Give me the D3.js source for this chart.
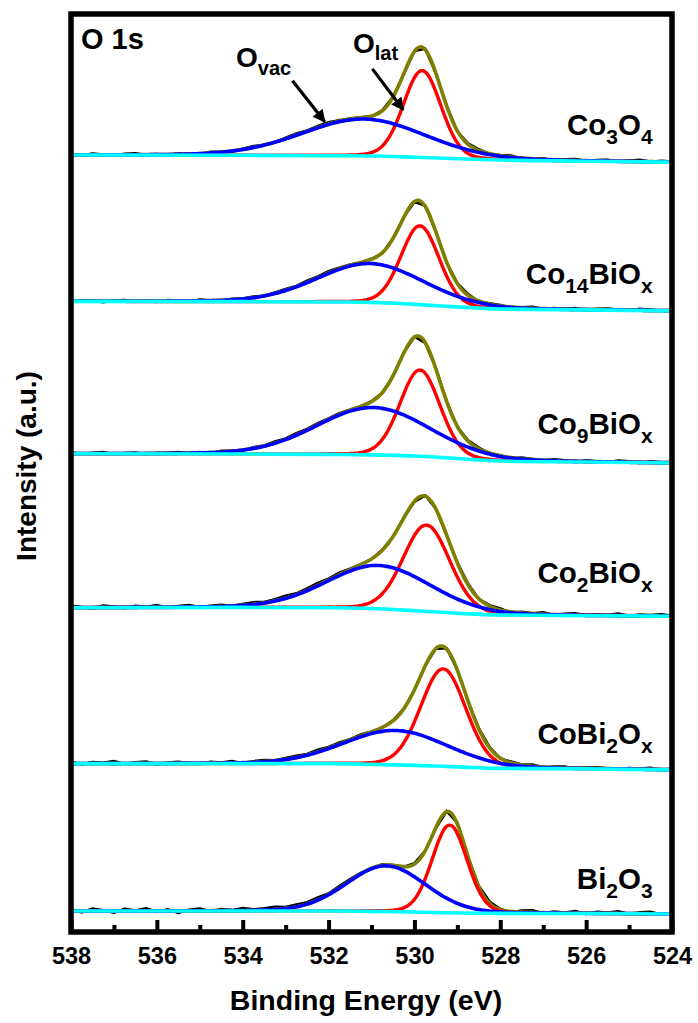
<!DOCTYPE html>
<html>
<head>
<meta charset="utf-8">
<script src="https://cdn.jsdelivr.net/npm/d3@7"></script>
<style>
  body { margin: 0; background: #fff; }
  text { font-family: "Liberation Sans", Arial, sans-serif; font-weight: bold; fill: #000; }
</style>
</head>
<body>
<svg id="chart" width="698" height="1023"></svg>
<script>
// ---- data (top -> bottom) ----
const samples = ["Co3O4", "Co14BiOx", "Co9BiOx", "Co2BiOx", "CoBi2Ox", "Bi2O3"];

// label pieces: [text, isSubscript]
const labelParts = [
    [["Co", 0], ["3", 1], ["O", 0], ["4", 1]],
    [["Co", 0], ["14", 1], ["BiO", 0], ["x", 1]],
    [["Co", 0], ["9", 1], ["BiO", 0], ["x", 1]],
    [["Co", 0], ["2", 1], ["BiO", 0], ["x", 1]],
    [["CoBi", 0], ["2", 1], ["O", 0], ["x", 1]],
    [["Bi", 0], ["2", 1], ["O", 0], ["3", 1]]
];

// Shirley-type background, stacked intensity (a.u.) at these binding energies
const bgEnergy = [538, 534, 532, 531, 530, 529, 528, 526, 524];
const bgLevels = [
    [778.7, 778.4, 778.0, 777.7, 776.5, 775.0, 773.7, 772.5, 771.5],
    [632.0, 631.7, 631.4, 631.0, 629.0, 626.5, 624.3, 623.5, 622.5],
    [479.3, 479.0, 478.7, 478.2, 477.0, 474.5, 472.0, 471.0, 470.0],
    [325.0, 325.3, 325.0, 324.2, 322.0, 319.5, 317.7, 317.0, 316.5],
    [168.7, 168.7, 168.7, 168.0, 167.0, 165.5, 164.0, 163.5, 162.5],
    [21.0, 21.0, 21.0, 20.7, 20.0, 19.0, 18.7, 18.5, 18.0]
];

// fitted components: lattice oxygen (red) and oxygen vacancy (blue)
const latCenter = [529.82, 529.87, 529.87, 529.72, 529.33, 529.18];
const latHeight = [87, 79, 86.5, 86.5, 97.7, 88];
const latFwhm   = [1.03, 1.05, 1.10, 1.28, 1.24, 0.96];
const vacCenter = [531.18, 531.03, 530.96, 530.83, 530.44, 530.66];
const vacHeight = [37, 39, 47.5, 43.5, 34.5, 45.8];
const vacFwhm   = [3.38, 2.92, 3.10, 2.85, 2.85, 2.18];
const glMix = 0.1;

// raw spectrum = fit + residual, residuals every 0.25 eV from 538 to 524 eV
const rawStep = 0.25;
const residuals = [
    [0.5,-0.8,1.2,0.3,-1.0,0.8,1.5,-0.5,0.6,-1.2, 0.9,0.2,-0.7,1.1,0.4,-0.9,0.7,1.3,0.2,-0.6, 1.0,1.6,0.8,1.4,1.8,0.9,0.5,0.3,-0.4,0.6, 0.2,-0.5,0.4,0.8,-0.3,0.5,-0.7,0.9,1.2,-0.4, 0.6,1.5,-0.8,0.3,1.1,-0.6,0.9,1.4,-0.3,0.7, 1.2,-0.5,0.8,1.6,-0.2,0.9,0.4],
    [-0.6,0.9,0.3,-1.1,0.7,1.2,-0.4,0.5,-0.9,1.0, 0.4,-0.7,1.3,0.2,-0.5,0.8,0.3,1.1,-0.2,0.9, 1.4,0.7,1.7,1.2,1.9,1.0,0.6,-0.3,0.4,-0.6, 0.3,0.5,-0.4,0.7,0.2,-0.8,0.6,1.3,-0.5,0.8, 1.0,-0.7,0.5,1.4,-0.4,0.9,0.2,1.2,-0.6,0.7, 1.1,0.3,-0.5,1.3,0.6,-0.3,0.8],
    [1.1,-0.5,0.6,1.4,-0.8,0.3,1.0,-1.1,0.7,0.2, 1.3,-0.4,0.8,-0.9,1.2,0.5,-0.3,1.0,0.6,1.5, 0.9,1.8,1.1,1.6,0.8,1.2,0.4,-0.2,0.5,0.1, -0.4,0.6,0.3,-0.5,0.8,0.2,-0.6,0.9,1.1,-0.3, 0.7,-0.8,1.2,0.4,-0.5,1.3,0.6,-0.9,1.0,0.3, -0.4,1.4,0.7,-0.6,1.1,0.2,0.9],
    [1.6,0.4,-1.2,1.9,0.7,-0.8,1.4,0.3,2.0,-0.6, 1.1,1.8,-0.4,0.9,1.5,0.2,1.3,2.1,0.8,1.7, 2.3,1.2,1.9,2.4,1.4,2.0,0.9,0.5,-0.3,0.6, -0.2,0.4,-0.5,0.7,0.3,-0.6,0.5,1.2,-0.4,0.9, 1.5,-0.7,1.1,0.4,1.8,-0.5,0.8,1.6,-0.3,1.0, 0.6,1.9,-0.4,1.2,0.7,1.5,0.3],
    [2.0,-0.9,1.4,0.6,2.3,-0.5,1.1,1.8,-1.0,0.7, 1.6,0.2,-0.8,1.3,0.5,1.9,-0.6,1.0,1.5,0.3, 1.2,1.7,0.9,2.0,1.1,1.6,0.7,1.3,0.4,-0.3, 0.5,0.2,-0.4,0.6,-0.2,0.8,0.3,-0.5,0.7,1.0, -0.6,1.2,0.4,1.7,-0.5,0.9,1.3,-0.8,0.6,1.1, 0.3,-0.4,1.0,0.5,1.4,-0.6,0.8],
    [1.8,-1.4,2.4,0.6,-1.8,2.1,0.3,2.6,-1.2,1.5, -2.0,0.9,2.2,-0.7,1.6,0.4,2.5,1.0,1.8,2.6, 1.4,2.2,1.7,2.5,1.1,2.0,1.5,0.8,-0.4,0.9, 0.3,-0.5,0.8,0.1,-0.6,0.5,1.3,-0.3,0.9,1.8, 0.6,-0.9,1.6,2.2,-0.7,1.2,0.4,2.0,-1.1,1.4, 0.8,2.1,-0.5,1.3,1.9,-0.8,1.0]
];

const majorTicks = [538, 536, 534, 532, 530, 528, 526, 524];
const minorTicks = [537, 535, 533, 531, 529, 527, 525];

// ---- layout ----
const svg = d3.select("#chart");
const plot = {left: 71, right: 672, top: 14, bottom: 932};
const labelLift = [20, 17, 20, 25, 20, 22];

const x = d3.scaleLinear().domain([538, 524]).range([plot.left, plot.right]);
const y = d3.scaleLinear().domain([0, 920]).range([plot.bottom, plot.top]);

function pv(e, c, h, w) {
    const t = (e - c) / w;
    return h * ((1 - glMix) * Math.exp(-4 * Math.LN2 * t * t) + glMix / (1 + 4 * t * t));
}

const fineE = d3.range(0, 281).map(i => 538 - i * 0.05);
const rawE = d3.range(0, 57).map(i => 538 - i * rawStep);

const line = d3.line().x(d => x(d[0])).y(d => y(d[1]));
const smooth = d3.line().x(d => x(d[0])).y(d => y(d[1])).curve(d3.curveMonotoneX);

samples.forEach((s, k) => {
    const bg = d3.scaleLinear().domain(bgEnergy).range(bgLevels[k]);
    const lat = e => pv(e, latCenter[k], latHeight[k], latFwhm[k]);
    const vac = e => pv(e, vacCenter[k], vacHeight[k], vacFwhm[k]);
    const g = svg.append("g").attr("class", "spectrum");

    // raw data
    g.append("path")
        .attr("d", line(rawE.map((e, i) => [e, bg(e) + lat(e) + vac(e) + residuals[k][i]])))
        .attr("fill", "none").attr("stroke", "#000").attr("stroke-width", 2.6);
    // envelope
    g.append("path")
        .attr("d", smooth(fineE.map(e => [e, bg(e) + lat(e) + vac(e)])))
        .attr("fill", "none").attr("stroke", "#808000").attr("stroke-width", 3.6);
    // O lat
    g.append("path")
        .attr("d", smooth(fineE.map(e => [e, bg(e) + lat(e)])))
        .attr("fill", "none").attr("stroke", "#ff0000").attr("stroke-width", 3.4);
    // O vac
    g.append("path")
        .attr("d", smooth(fineE.map(e => [e, bg(e) + vac(e)])))
        .attr("fill", "none").attr("stroke", "#0000ff").attr("stroke-width", 3.6);
    // background
    g.append("path")
        .attr("d", smooth(bgEnergy.map((e, i) => [e, bgLevels[k][i]])))
        .attr("fill", "none").attr("stroke", "#00ffff").attr("stroke-width", 3.6);

    // sample label
    const t = svg.append("text")
        .attr("x", x(524.45))
        .attr("y", y(bgLevels[k][0] + labelLift[k]))
        .attr("text-anchor", "end")
        .style("font-size", "29.5px");
    let shifted = false;
    labelParts[k].forEach(p => {
        const ts = t.append("tspan").text(p[0]);
        if (p[1]) { ts.attr("dy", 9).style("font-size", "21px"); shifted = true; }
        else if (shifted) { ts.attr("dy", -9); shifted = false; }
    });
});

// ---- annotations ----
svg.append("text").attr("x", 81).attr("y", 49).style("font-size", "29px").text("O 1s");

function subLabel(xp, yp, main, sub, dy) {
    const t = svg.append("text").attr("x", xp).attr("y", yp).style("font-size", "28px");
    t.append("tspan").text(main);
    t.append("tspan").attr("dy", dy).style("font-size", "20px").text(sub);
}
subLabel(236, 67, "O", "vac", 8);
subLabel(353, 53, "O", "lat", 7);

svg.append("defs").append("marker")
    .attr("id", "head").attr("viewBox", "0 0 10 10")
    .attr("refX", 9).attr("refY", 5)
    .attr("markerWidth", 4.2).attr("markerHeight", 4)
    .attr("markerUnits", "strokeWidth")
    .attr("orient", "auto")
    .append("path").attr("d", "M0,0 L10,5 L0,10 Z").attr("fill", "#000");

const arrows = [
    {from: [532.84, 853], to: [532.09, 812]},
    {from: [530.98, 865], to: [530.26, 824]}
];
arrows.forEach(a => {
    svg.append("line")
        .attr("x1", x(a.from[0])).attr("y1", y(a.from[1]))
        .attr("x2", x(a.to[0])).attr("y2", y(a.to[1]))
        .attr("stroke", "#000").attr("stroke-width", 3.2)
        .attr("marker-end", "url(#head)");
});

// ---- axes and frame ----
const axisMajor = d3.axisBottom(x).tickValues(majorTicks).tickSize(-12).tickPadding(15).tickFormat(d3.format("d"));
const gx = svg.append("g").attr("transform", `translate(0,${plot.bottom})`).call(axisMajor);
gx.select(".domain").remove();
gx.selectAll(".tick line").attr("stroke", "#000").attr("stroke-width", 4);
gx.selectAll(".tick text").style("font-size", "23.5px").style("font-family", "'Liberation Sans', Arial, sans-serif");

const axisMinor = d3.axisBottom(x).tickValues(minorTicks).tickSize(-7).tickFormat("");
const gm = svg.append("g").attr("transform", `translate(0,${plot.bottom})`).call(axisMinor);
gm.select(".domain").remove();
gm.selectAll(".tick line").attr("stroke", "#000").attr("stroke-width", 4);

svg.append("rect")
    .attr("x", plot.left).attr("y", plot.top)
    .attr("width", plot.right - plot.left).attr("height", plot.bottom - plot.top)
    .attr("fill", "none").attr("stroke", "#000").attr("stroke-width", 5.5);

svg.append("text")
    .attr("x", 366).attr("y", 1010)
    .attr("text-anchor", "middle")
    .style("font-size", "28.5px")
    .text("Binding Energy (eV)");

svg.append("text")
    .attr("transform", "translate(36,466) rotate(-90)")
    .attr("text-anchor", "middle")
    .style("font-size", "28px")
    .text("Intensity (a.u.)");
</script>
</body>
</html>
